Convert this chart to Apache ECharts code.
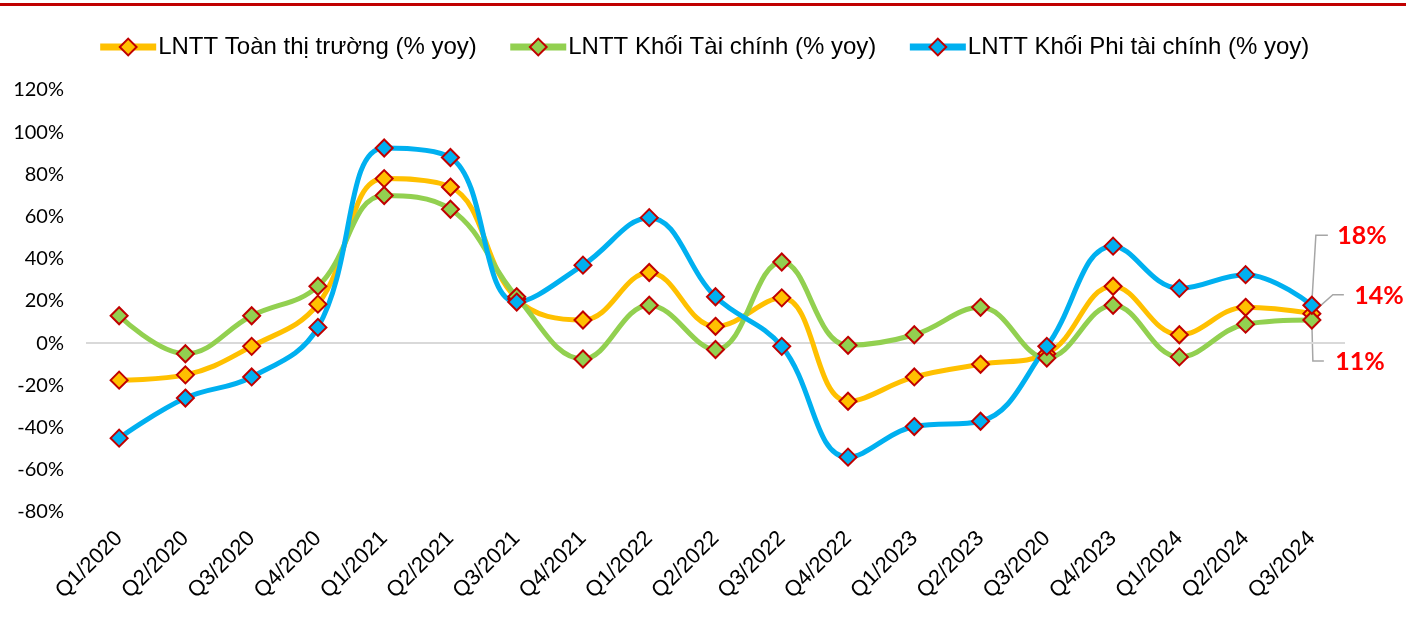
<!DOCTYPE html>
<html>
<head>
<meta charset="utf-8">
<script src="https://cdn.jsdelivr.net/npm/echarts@6/dist/echarts.min.js"></script>
<style>
  html, body { margin: 0; padding: 0; background: #fff; }
  #chart { width: 1406px; height: 629px; }
</style>
</head>
<body>
<div id="chart"></div>
<script>
// categories (the second "Q3/2020" is as printed in the source)
const quarters = [
  'Q1/2020', 'Q2/2020', 'Q3/2020', 'Q4/2020',
  'Q1/2021', 'Q2/2021', 'Q3/2021', 'Q4/2021',
  'Q1/2022', 'Q2/2022', 'Q3/2022', 'Q4/2022',
  'Q1/2023', 'Q2/2023', 'Q3/2020', 'Q4/2023',
  'Q1/2024', 'Q2/2024', 'Q3/2024',
]
const seriesNames = [
  'LNTT Toàn thị trường (% yoy)',
  'LNTT Khối Tài chính (% yoy)',
  'LNTT Khối Phi tài chính (% yoy)',
]
// % yoy
const toanThiTruong = [-17.5, -15, -1.5, 18.5, 78, 74, 21, 11, 33.5, 8, 21.5, -27.5, -16, -10, -5, 27, 4, 17, 14]
const khoiTaiChinh = [13, -5, 13, 27, 70, 63.5, 22, -7.5, 18, -3, 38.5, -1, 4, 17, -7, 18, -6.5, 9, 11]
const khoiPhiTaiChinh = [-45, -26, -16, 7.5, 92.5, 88, 19.5, 37, 59.5, 22, -1.5, -54, -39.5, -37, -1.5, 46, 26, 32.5, 18]
const yTicks = { min: -80, max: 120, step: 20 }

const colors = ['#FFC000', '#92D050', '#00B0F0']
const lastIdx = quarters.length - 1
// end labels: shift from the default right position, and the elbow of the leader line
const endLabelShift = [
  { dx: 28, dy: -18 },
  { dx: 9, dy: 42 },
  { dx: 11, dy: -69 },
]
const leaderOffsets = [
  [[3, -3], [21, -19], [32, -19]],
  [[0, 3], [1, 41], [12, 41]],
  [[0, -3], [4, -70], [16, -70]],
]

function makeSeries(name, data, i) {
  return {
    name: name,
    type: 'line',
    data: data.map((v, k) => {
      if (k !== lastIdx) return v
      return {
        value: v,
        label: {
          show: true,
          position: 'right',
          formatter: Math.round(v) + '%',
          color: '#FF0000',
          fontFamily: 'Lato',
          fontWeight: 'bold',
          fontSize: 25,
        },
      }
    }),
    smooth: 0.4,
    symbol: 'diamond',
    symbolSize: 17,
    lineStyle: { color: colors[i], width: 5 },
    itemStyle: { color: colors[i], borderColor: '#C00000', borderWidth: 2 },
    labelLayout: function (params) {
      if (params.dataIndex !== lastIdx) return {}
      return endLabelShift[i]
    },
    markLine: i === 0 ? {
      silent: true,
      symbol: 'none',
      label: { show: false },
      lineStyle: { color: '#D9D9D9', width: 2, type: 'solid' },
      data: [{ yAxis: 0 }],
      z: 1,
    } : undefined,
  }
}

const allSeries = [toanThiTruong, khoiTaiChinh, khoiPhiTaiChinh]

const myChart = echarts.init(document.getElementById('chart'))
myChart.setOption({
  animation: false,
  color: colors,
  legend: {
    top: 30,
    left: 'center',
    itemWidth: 56,
    itemHeight: 21,
    itemGap: 30,
    lineStyle: { width: 7 },
    textStyle: {
      fontFamily: 'Liberation Sans',
      fontSize: 24,
      color: '#000',
      padding: [0, 0, 0, -3],
    },
    data: seriesNames,
  },
  grid: {
    left: 86,
    right: 61,
    top: 90,
    bottom: 117,
    containLabel: false,
  },
  xAxis: {
    type: 'category',
    data: quarters,
    axisLine: { show: false },
    axisTick: { show: false },
    splitLine: { show: false },
    axisLabel: {
      rotate: 45,
      margin: 23,
      interval: 0,
      color: '#000',
      fontFamily: 'Liberation Sans',
      fontSize: 22,
    },
  },
  yAxis: {
    type: 'value',
    min: yTicks.min,
    max: yTicks.max,
    interval: yTicks.step,
    axisLine: { show: false },
    axisTick: { show: false },
    splitLine: { show: false },
    axisLabel: {
      formatter: '{value}%',
      color: '#000',
      fontFamily: 'Lato',
      fontSize: 20,
      margin: 22,
    },
  },
  series: [
    makeSeries(seriesNames[0], toanThiTruong, 0),
    makeSeries(seriesNames[1], khoiTaiChinh, 1),
    makeSeries(seriesNames[2], khoiPhiTaiChinh, 2),
  ],
})

// red band on top + elbow leader lines for the last-quarter labels
const graphics = [
  {
    type: 'rect',
    left: 0,
    top: 3,
    shape: { width: 1406, height: 3 },
    style: { fill: '#C00000' },
    z: 10,
  },
]
allSeries.forEach((data, i) => {
  const p = myChart.convertToPixel({ seriesIndex: i }, [lastIdx, data[lastIdx]])
  graphics.push({
    type: 'polyline',
    shape: { points: leaderOffsets[i].map(o => [p[0] + o[0], p[1] + o[1]]) },
    style: { stroke: '#A6A6A6', lineWidth: 1.5, fill: null },
    silent: true,
    z: 0,
  })
})
myChart.setOption({ graphic: graphics })

window.addEventListener('resize', () => {
  myChart.resize()
})
</script>
</body>
</html>
